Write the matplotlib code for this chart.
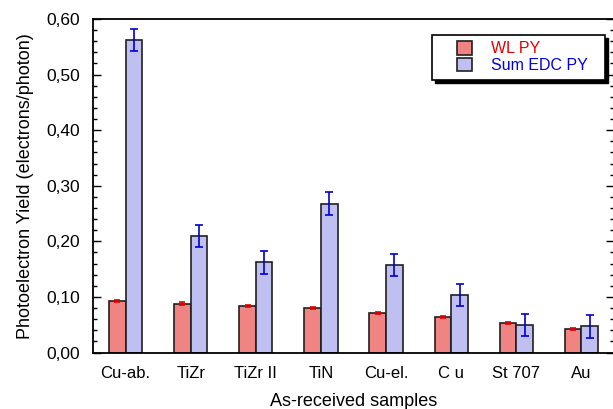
import matplotlib
matplotlib.use("Agg")
import matplotlib.pyplot as plt
import numpy as np
from matplotlib.patches import Rectangle
from matplotlib.ticker import MultipleLocator, FuncFormatter

plt.rcParams['font.family'] = ['Liberation Sans', 'DejaVu Sans']

samples = ["Cu-ab.", "TiZr", "TiZr II", "TiN", "Cu-el.", "C u", "St 707", "Au"]
wl_py = [0.093, 0.088, 0.084, 0.080, 0.071, 0.064, 0.053, 0.042]
wl_err = [0.002, 0.002, 0.002, 0.002, 0.002, 0.002, 0.002, 0.002]
edc_py = [0.562, 0.210, 0.162, 0.268, 0.157, 0.103, 0.049, 0.047]
edc_err = [0.020, 0.020, 0.020, 0.020, 0.020, 0.020, 0.020, 0.020]

fig = plt.figure(figsize=(6.13, 4.09), dpi=100)
ax = fig.add_axes([0.1517, 0.1381, 0.8500, 0.8154])

x = np.arange(len(samples))
w = 0.255

ax.bar(x - w / 2, wl_py, width=w, color="#F08482", edgecolor="#202020",
       linewidth=1.2, label="WL PY", zorder=2)
ax.bar(x + w / 2, edc_py, width=w, color="#BFBFF2", edgecolor="#202020",
       linewidth=1.2, label="Sum EDC PY", zorder=2)
ax.errorbar(x - w / 2, wl_py, yerr=wl_err, fmt="none", ecolor="#E00000",
            elinewidth=1.2, capsize=2.5, capthick=1.2, zorder=3)
ax.errorbar(x + w / 2, edc_py, yerr=edc_err, fmt="none", ecolor="#0000D0",
            elinewidth=1.2, capsize=3, capthick=1.2, zorder=3)

ax.set_xlim(-0.5, 7.5)
ax.set_ylim(0, 0.60)
ax.set_xticks(x)
ax.set_xticklabels(samples, fontsize=12)
ax.tick_params(axis="x", length=0, pad=10)

ax.yaxis.set_major_locator(MultipleLocator(0.10))
ax.yaxis.set_minor_locator(MultipleLocator(0.02))
ax.yaxis.set_major_formatter(FuncFormatter(lambda v, p: f"{v:.2f}".replace(".", ",")))
ax.tick_params(axis="y", which="major", direction="in", length=6, width=1,
               labelsize=12.5, pad=9, right=True)
ax.tick_params(axis="y", which="minor", direction="in", length=3, width=1,
               right=True)

for s in ax.spines.values():
    s.set_linewidth(1.3)

ax.set_ylabel("Photoelectron Yield (electrons/photon)", fontsize=13, labelpad=9)
ax.set_xlabel("As-received samples", fontsize=13, labelpad=8)

# legend box with a solid black drop shadow
box_x0, box_y0, box_w, box_h = 0.651, 0.817, 0.332, 0.135
sh = Rectangle((box_x0, box_y0), box_w, box_h, transform=ax.transAxes,
               facecolor="black", edgecolor="black", zorder=4, clip_on=False)
sh.set_transform(ax.transAxes + matplotlib.transforms.ScaledTranslation(
    3 / 100, -3 / 100, fig.dpi_scale_trans))
ax.add_patch(sh)
ax.add_patch(Rectangle((box_x0, box_y0), box_w, box_h, transform=ax.transAxes,
                       facecolor="white", edgecolor="black", linewidth=1.2,
                       zorder=5, clip_on=False))

leg = ax.legend(loc="upper left", bbox_to_anchor=(0.698, 0.934), fontsize=11.5,
                frameon=False, handlelength=0.95, handleheight=0.95,
                borderpad=0, labelspacing=0.08, handletextpad=1.2,
                borderaxespad=0)
leg.set_zorder(6)
for txt, col in zip(leg.get_texts(), ["#E80000", "#0000E8"]):
    txt.set_color(col)

fig.savefig("out.png", dpi=100)
